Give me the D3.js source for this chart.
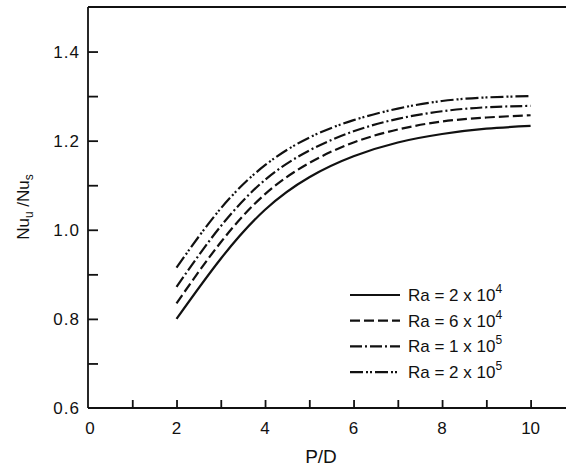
<!DOCTYPE html>
<html><head><meta charset="utf-8">
<script src="https://cdn.jsdelivr.net/npm/d3@7"></script>
<style>body{margin:0;background:#fff}svg{display:block}text{font-family:"Liberation Sans",Arial,sans-serif;fill:#111}</style>
</head><body><svg id="c" width="566" height="470"></svg>
<script>
const pd = [2,3,4,5,6,7,8,9,10];
const ra2e4 = [0.80,0.935,1.045,1.118,1.165,1.196,1.215,1.227,1.233];
const ra6e4 = [0.835,0.972,1.080,1.150,1.196,1.225,1.243,1.252,1.257];
const ra1e5 = [0.872,1.008,1.112,1.178,1.221,1.249,1.266,1.275,1.278];
const ra2e5 = [0.915,1.048,1.145,1.207,1.246,1.272,1.289,1.297,1.300];
const seriesNames = ["Ra = 2 x 10","Ra = 6 x 10","Ra = 1 x 10","Ra = 2 x 10"];
const seriesExp = ["4","4","5","5"];
const xTickLabels = [0,2,4,6,8,10];
const yTickLabels = [0.6,0.8,1.0,1.2,1.4];

const svg = d3.select("#c");
const x = d3.scaleLinear().domain([0,10.8]).range([88,566]);
const y = d3.scaleLinear().domain([0.6,1.5]).range([408,7]);
const ink = "#111";

// frame
svg.append("line").attr("x1",x(0)).attr("x2",566).attr("y1",y(1.5)).attr("y2",y(1.5)).attr("stroke",ink).attr("stroke-width",1.8);

// axes with inward ticks
const xAxis = d3.axisTop(x).tickValues(d3.range(1,11)).tickSize(8).tickFormat("");
const gx = svg.append("g").attr("transform",`translate(0,${y(0.6)})`).call(xAxis);
gx.select(".domain").attr("d",`M${x(0)},0H566`);
gx.selectAll("line,path").attr("stroke",ink).attr("stroke-width",1.8);
const yAxis = d3.axisRight(y).tickValues([0.7,0.8,0.9,1.0,1.1,1.2,1.3,1.4]).tickSize(10).tickFormat("");
const gy = svg.append("g").attr("transform",`translate(${x(0)},0)`).call(yAxis);
gy.select(".domain").attr("d",`M0,${y(0.6)}V${y(1.5)}`);
gy.selectAll("line,path").attr("stroke",ink).attr("stroke-width",1.8);

// tick labels
svg.append("g").selectAll("text").data(xTickLabels).join("text")
  .attr("x",d=>x(d)+(d===0?2:0)).attr("y",434).attr("text-anchor","middle")
  .attr("font-size",17).text(d=>d);
svg.append("g").selectAll("text").data(yTickLabels).join("text")
  .attr("x",80).attr("y",d=>y(d)+6).attr("text-anchor","end")
  .attr("font-size",17).attr("letter-spacing",1).text(d=>d.toFixed(1));

// axis titles
svg.append("text").attr("x",321).attr("y",463).attr("text-anchor","middle").attr("font-size",19).text("P/D");
const yt = svg.append("text").attr("transform","translate(29,207) rotate(-90)").attr("text-anchor","middle").attr("font-size",17);
yt.append("tspan").text("Nu");
yt.append("tspan").attr("dy",4).attr("font-size",12).text("u");
yt.append("tspan").attr("dy",-4).text(" /Nu");
yt.append("tspan").attr("dy",4).attr("font-size",12).text("s");

// curves
const dashes = [null,"10,4","12,3,2,3","13,3,2,2,2,3"];
const all = [ra2e4,ra6e4,ra1e5,ra2e5];
const line = d3.line().x((d,i)=>x(pd[i])).y(d=>y(d)).curve(d3.curveNatural);
all.forEach((s,k)=>{
  svg.append("path").datum(s).attr("d",line).attr("fill","none").attr("stroke",ink)
    .attr("stroke-width",2.2).attr("stroke-dasharray",dashes[k]);
});

// legend
const lg = svg.append("g");
seriesNames.forEach((n,k)=>{
  const yy = 295 + k*25.7;
  lg.append("line").attr("x1",350).attr("x2",400).attr("y1",yy).attr("y2",yy)
    .attr("stroke",ink).attr("stroke-width",2.2).attr("stroke-dasharray",dashes[k]);
  const t = lg.append("text").attr("x",408).attr("y",yy+6).attr("font-size",17);
  t.append("tspan").text(n);
  t.append("tspan").attr("dy",-8).attr("font-size",12).text(seriesExp[k]);
});
</script></body></html>
